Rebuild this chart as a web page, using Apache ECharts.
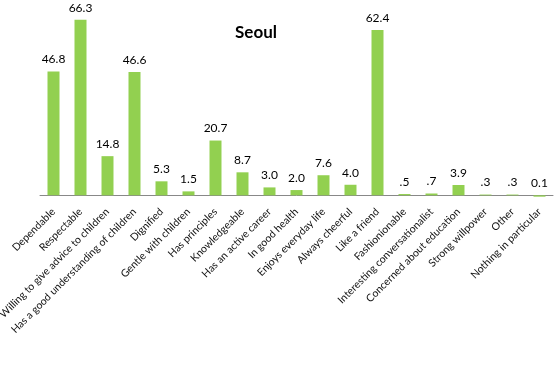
<!DOCTYPE html>
<html>
<head>
<meta charset="utf-8">
<script src="https://cdn.jsdelivr.net/npm/echarts@6/dist/echarts.min.js"></script>
<style>html,body{margin:0;padding:0;background:#fff}#c{width:559px;height:379px}</style>
</head>
<body>
<div id="c"></div>
<script>
const categories = ['Dependable','Respectable','Willing to give advice to children','Has a good understanding of children','Dignified','Gentle with children','Has principles','Knowledgeable','Has an active career','In good health','Enjoys everyday life','Always cheerful','Like a friend','Fashionionable','Interesting conversationalist','Concerned about education','Strong willpower','Other','Nothing in particular'];
const values = [46.8,66.3,14.8,46.6,5.3,1.5,20.7,8.7,3.0,2.0,7.6,4.0,62.4,0.5,0.7,3.9,0.3,0.3,-0.5];
const valueLabels = ['46.8','66.3','14.8','46.6','5.3','1.5','20.7','8.7','3.0','2.0','7.6','4.0','62.4','.5','.7','3.9','.3','.3','0.1'];
const titleText = 'Seoul';

const chart = echarts.init(document.getElementById('c'), null, {renderer:'canvas'});
chart.setOption({
  animation:false,
  title:{text:titleText,left:251,top:19,textAlign:'center',textStyle:{fontFamily:'Lato',fontWeight:'bold',fontSize:17,color:'#000'}},
  grid:{left:40,right:6,top:10,bottom:181,containLabel:false,outerBoundsMode:'none'},
  xAxis:{type:'category',data:categories,
    axisLine:{onZero:true,lineStyle:{color:'#888',width:1}},
    axisTick:{show:false},
    axisLabel:{interval:0,rotate:45,margin:12,fontFamily:'Lato',fontSize:10.5,color:'#111'}},
  yAxis:{type:'value',min:-1,max:70,show:false,splitLine:{show:false}},
  series:[{type:'bar',data:values,barWidth:12,itemStyle:{color:'#92D050'},
    label:{show:true,position:'top',distance:6,fontFamily:'Lato',fontSize:12,color:'#000',
      formatter:p=>valueLabels[p.dataIndex]}}]
});
</script>
</body>
</html>
